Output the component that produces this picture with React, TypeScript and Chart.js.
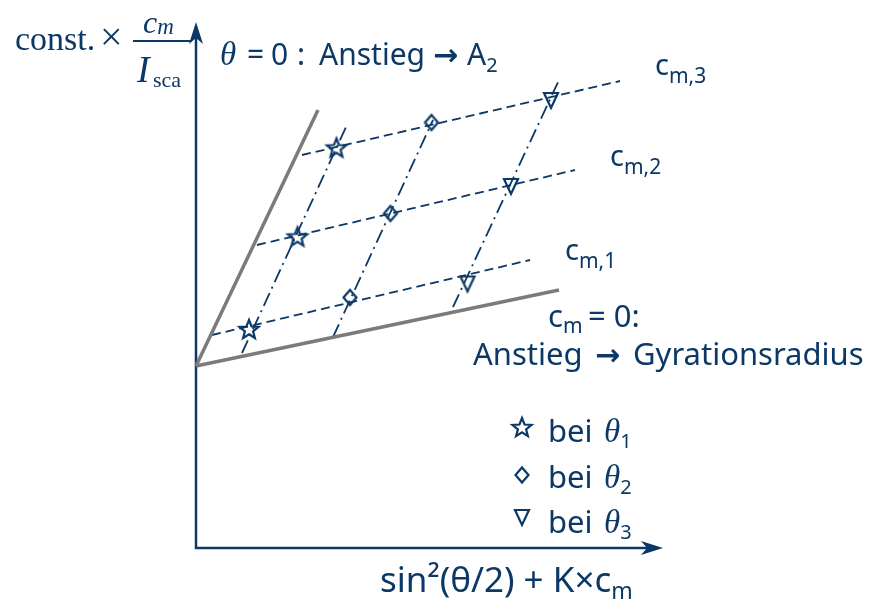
import React, { useEffect, useRef } from "react";
import { Chart, registerables } from "chart.js";

Chart.register(...registerables);

const NAVY = "#0b3866";
const GRAY = "#7b7b7b";
const SANS = "'Noto Sans', 'Open Sans', sans-serif";
const SERIF = "'Liberation Serif', 'Times New Roman', serif";
const ARROWFONT = "'DejaVu Sans', sans-serif";

// concentration series (dashed lines) and angle series (dash-dot lines)
const concLabels = ["m,1", "m,2", "m,3"];
const thetaLabels = ["1", "2", "3"];

// measured points, x = sin²(θ/2)+K·c (arb. units), y = const·c/I (arb. units)
const theta1X = [1.06, 2.03, 2.81];
const theta1Y = [4.38, 6.23, 8.01];
const theta2X = [3.08, 3.89, 4.71];
const theta2Y = [5.01, 6.69, 8.51];
const theta3X = [5.43, 6.3, 7.1];
const theta3Y = [5.29, 7.24, 8.96];

// constant-concentration lines (start/end)
const concLineX = [
  [0.32, 6.68],
  [1.22, 7.58],
  [2.12, 8.48],
];
const concLineY = [
  [4.26, 5.76],
  [6.06, 7.56],
  [7.86, 9.34],
];

// constant-angle lines (bottom/top)
const thetaLineX = [
  [0.92, 3.02],
  [2.74, 4.74],
  [5.14, 7.26],
];
const thetaLineY = [
  [3.9, 8.46],
  [4.22, 8.56],
  [4.82, 9.36],
];

// extrapolated lines: θ = 0 and c = 0
const intercept = 3.64;
const theta0End = [2.44, 8.76];
const conc0End = [7.26, 5.16];

function makeStar(): HTMLCanvasElement {
  const s = 26;
  const c = document.createElement("canvas");
  c.width = s;
  c.height = s;
  const g = c.getContext("2d")!;
  g.translate(s / 2, s / 2 + 1);
  g.beginPath();
  for (let i = 0; i < 10; i++) {
    const r = i % 2 === 0 ? 10 : 4.3;
    const a = -Math.PI / 2 + (i * Math.PI) / 5;
    g.lineTo(r * Math.cos(a), r * Math.sin(a));
  }
  g.closePath();
  g.strokeStyle = NAVY;
  g.lineWidth = 2.2;
  g.lineJoin = "miter";
  g.stroke();
  return c;
}

function makeDiamond(): HTMLCanvasElement {
  const s = 22;
  const c = document.createElement("canvas");
  c.width = s;
  c.height = s;
  const g = c.getContext("2d")!;
  g.translate(s / 2, s / 2);
  g.beginPath();
  g.moveTo(0, -7.5);
  g.lineTo(6.5, 0);
  g.lineTo(0, 7.5);
  g.lineTo(-6.5, 0);
  g.closePath();
  g.strokeStyle = NAVY;
  g.lineWidth = 2.2;
  g.stroke();
  return c;
}

function makeTriangle(): HTMLCanvasElement {
  const s = 22;
  const c = document.createElement("canvas");
  c.width = s;
  c.height = s;
  const g = c.getContext("2d")!;
  g.translate(s / 2, s / 2);
  g.beginPath();
  g.moveTo(-7, -7);
  g.lineTo(7, -7);
  g.lineTo(0, 8);
  g.closePath();
  g.strokeStyle = NAVY;
  g.lineWidth = 2.2;
  g.stroke();
  return c;
}

function pts(xs: number[], ys: number[]) {
  return xs.map((x, i) => ({ x, y: ys[i] }));
}

export default function App() {
  const ref = useRef<HTMLCanvasElement>(null);

  useEffect(() => {
    document.body.style.margin = "0";
    const star = makeStar();
    const diamond = makeDiamond();
    const triangle = makeTriangle();
    const markers = [star, diamond, triangle];

    const annotations = {
      id: "annotations",
      beforeDatasetsDraw(chart: any) {
        const ctx = chart.ctx;
        const xs = chart.scales.x;
        const ys = chart.scales.y;
        const X = (v: number) => xs.getPixelForValue(v);
        const Y = (v: number) => ys.getPixelForValue(v);
        ctx.save();
        ctx.strokeStyle = NAVY;
        ctx.fillStyle = NAVY;
        ctx.lineWidth = 2.5;
        const ox = X(0);
        const oy = Y(0);
        const ty = Y(10.52);
        const rx = X(9.34);
        ctx.beginPath();
        ctx.moveTo(ox, ty + 10);
        ctx.lineTo(ox, oy);
        ctx.lineTo(rx - 10, oy);
        ctx.stroke();
        // arrow heads
        ctx.beginPath();
        ctx.moveTo(ox, ty);
        ctx.lineTo(ox + 7, ty + 22);
        ctx.lineTo(ox, ty + 16);
        ctx.lineTo(ox - 7, ty + 22);
        ctx.closePath();
        ctx.fill();
        ctx.beginPath();
        ctx.moveTo(rx, oy);
        ctx.lineTo(rx - 22, oy - 7);
        ctx.lineTo(rx - 16, oy);
        ctx.lineTo(rx - 22, oy + 7);
        ctx.closePath();
        ctx.fill();
        ctx.restore();
      },
      afterDatasetsDraw(chart: any) {
        const ctx = chart.ctx;
        const xs = chart.scales.x;
        const ys = chart.scales.y;
        const X = (v: number) => xs.getPixelForValue(v);
        const Y = (v: number) => ys.getPixelForValue(v);
        const t = (s: string, x: number, y: number, font: string) => {
          ctx.font = font;
          ctx.fillText(s, x, y);
          return x + ctx.measureText(s).width;
        };
        ctx.save();
        ctx.fillStyle = NAVY;
        ctx.strokeStyle = NAVY;
        ctx.textBaseline = "alphabetic";
        ctx.textAlign = "left";

        // y-axis title
        t("const.", X(-3.62), Y(9.96), `34px ${SERIF}`);
        t("×", X(-1.92), Y(9.96), `40px ${SERIF}`);
        ctx.lineWidth = 2;
        ctx.beginPath();
        ctx.moveTo(X(-1.26), Y(10.14));
        ctx.lineTo(X(-0.08), Y(10.14));
        ctx.stroke();
        const cEnd = t("c", X(-1.06), Y(10.3), `italic 32px ${SERIF}`);
        t("m", cEnd, Y(10.28), `italic 23px ${SERIF}`);
        t("I", X(-1.18), Y(9.32), `italic 38px ${SERIF}`);
        t("sca", X(-0.86), Y(9.22), `22px ${SERIF}`);

        // title θ = 0
        const tb = Y(9.66);
        t("θ", X(0.48), tb, `italic 33px ${SERIF}`);
        t("=", X(1.02), tb, `30px ${SANS}`);
        t("0", X(1.5), tb, `30px ${SANS}`);
        t(":", X(2.02), tb, `30px ${SANS}`);
        t("Anstieg", X(2.46), tb, `30px ${SANS}`);
        t("→", X(4.74), tb, `bold 30px ${ARROWFONT}`);
        const aEnd = t("A", X(5.42), tb, `30px ${SANS}`);
        t("2", aEnd, Y(9.52), `20px ${SANS}`);

        // concentration labels
        const cAnch = [
          [7.38, 5.76],
          [8.28, 7.64],
          [9.18, 9.46],
        ];
        concLabels.forEach((lab, i) => {
          const e = t("c", X(cAnch[i][0]), Y(cAnch[i][1]), `29px ${SANS}`);
          t(lab, e, Y(cAnch[i][1] - 0.16), `21px ${SANS}`);
        });

        // c = 0 annotation
        const c0 = t("c", X(7.04), Y(4.42), `31px ${SANS}`);
        t("m", c0, Y(4.3), `21px ${SANS}`);
        t("= 0:", X(7.84), Y(4.42), `31px ${SANS}`);
        t("Anstieg", X(5.54), Y(3.66), `31px ${SANS}`);
        t("→", X(7.98), Y(3.66), `bold 30px ${ARROWFONT}`);
        t("Gyrationsradius", X(8.74), Y(3.66), `31px ${SANS}`);

        // legend
        const symY = [2.42, 1.46, 0.62];
        const txtY = [2.12, 1.2, 0.3];
        thetaLabels.forEach((lab, i) => {
          const m = markers[i];
          ctx.drawImage(m, X(6.52) - m.width / 2, Y(symY[i]) - m.height / 2);
          t("bei", X(7.04), Y(txtY[i]), `31px ${SANS}`);
          const te = t("θ", X(8.16), Y(txtY[i]), `italic 33px ${SERIF}`);
          t(lab, te, Y(txtY[i] - 0.12), `20px ${SANS}`);
        });

        // x-axis title
        const xe = t("sin²(θ/2) + K×c", X(3.68), Y(-0.88), `35px ${SANS}`);
        t("m", xe, Y(-1.02), `23px ${SANS}`);
        ctx.restore();
      },
    };

    const line = (data: any[], color: string, width: number, dash: number[]) => ({
      data,
      borderColor: color,
      borderWidth: width,
      borderDash: dash,
      showLine: true,
      pointRadius: 0,
      fill: false,
    });

    const datasets: any[] = [
      line([{ x: 0, y: intercept }, { x: theta0End[0], y: theta0End[1] }], GRAY, 3.5, []),
      line([{ x: 0, y: intercept }, { x: conc0End[0], y: conc0End[1] }], GRAY, 3.5, []),
      ...concLineX.map((xx, i) => line(pts(xx, concLineY[i]), NAVY, 1.8, [9, 5])),
      ...thetaLineX.map((xx, i) => line(pts(xx, thetaLineY[i]), NAVY, 1.8, [14, 5, 2, 5])),
      {
        data: pts(theta1X, theta1Y),
        pointStyle: star,
        showLine: false,
        pointRadius: 10,
      },
      {
        data: pts(theta2X, theta2Y),
        pointStyle: diamond,
        showLine: false,
        pointRadius: 8,
      },
      {
        data: pts(theta3X, theta3Y),
        pointStyle: triangle,
        showLine: false,
        pointRadius: 8,
      },
    ];

    const chart = new Chart(ref.current!, {
      type: "scatter",
      data: { datasets },
      options: {
        responsive: false,
        animation: false,
        events: [],
        layout: { padding: 0, autoPadding: false },
        plugins: { legend: { display: false }, tooltip: { enabled: false } },
        scales: {
          x: { type: "linear", min: -3.92, max: 13.74, display: false },
          y: { type: "linear", min: -1.04, max: 10.96, display: false },
        },
      },
      plugins: [annotations],
    } as any);
    return () => chart.destroy();
  }, []);

  return (
    <div style={{ position: "absolute", left: 0, top: 0, width: 883, height: 600, background: "#fff" }}>
      <canvas ref={ref} width={883} height={600} style={{ display: "block" }} />
    </div>
  );
}
